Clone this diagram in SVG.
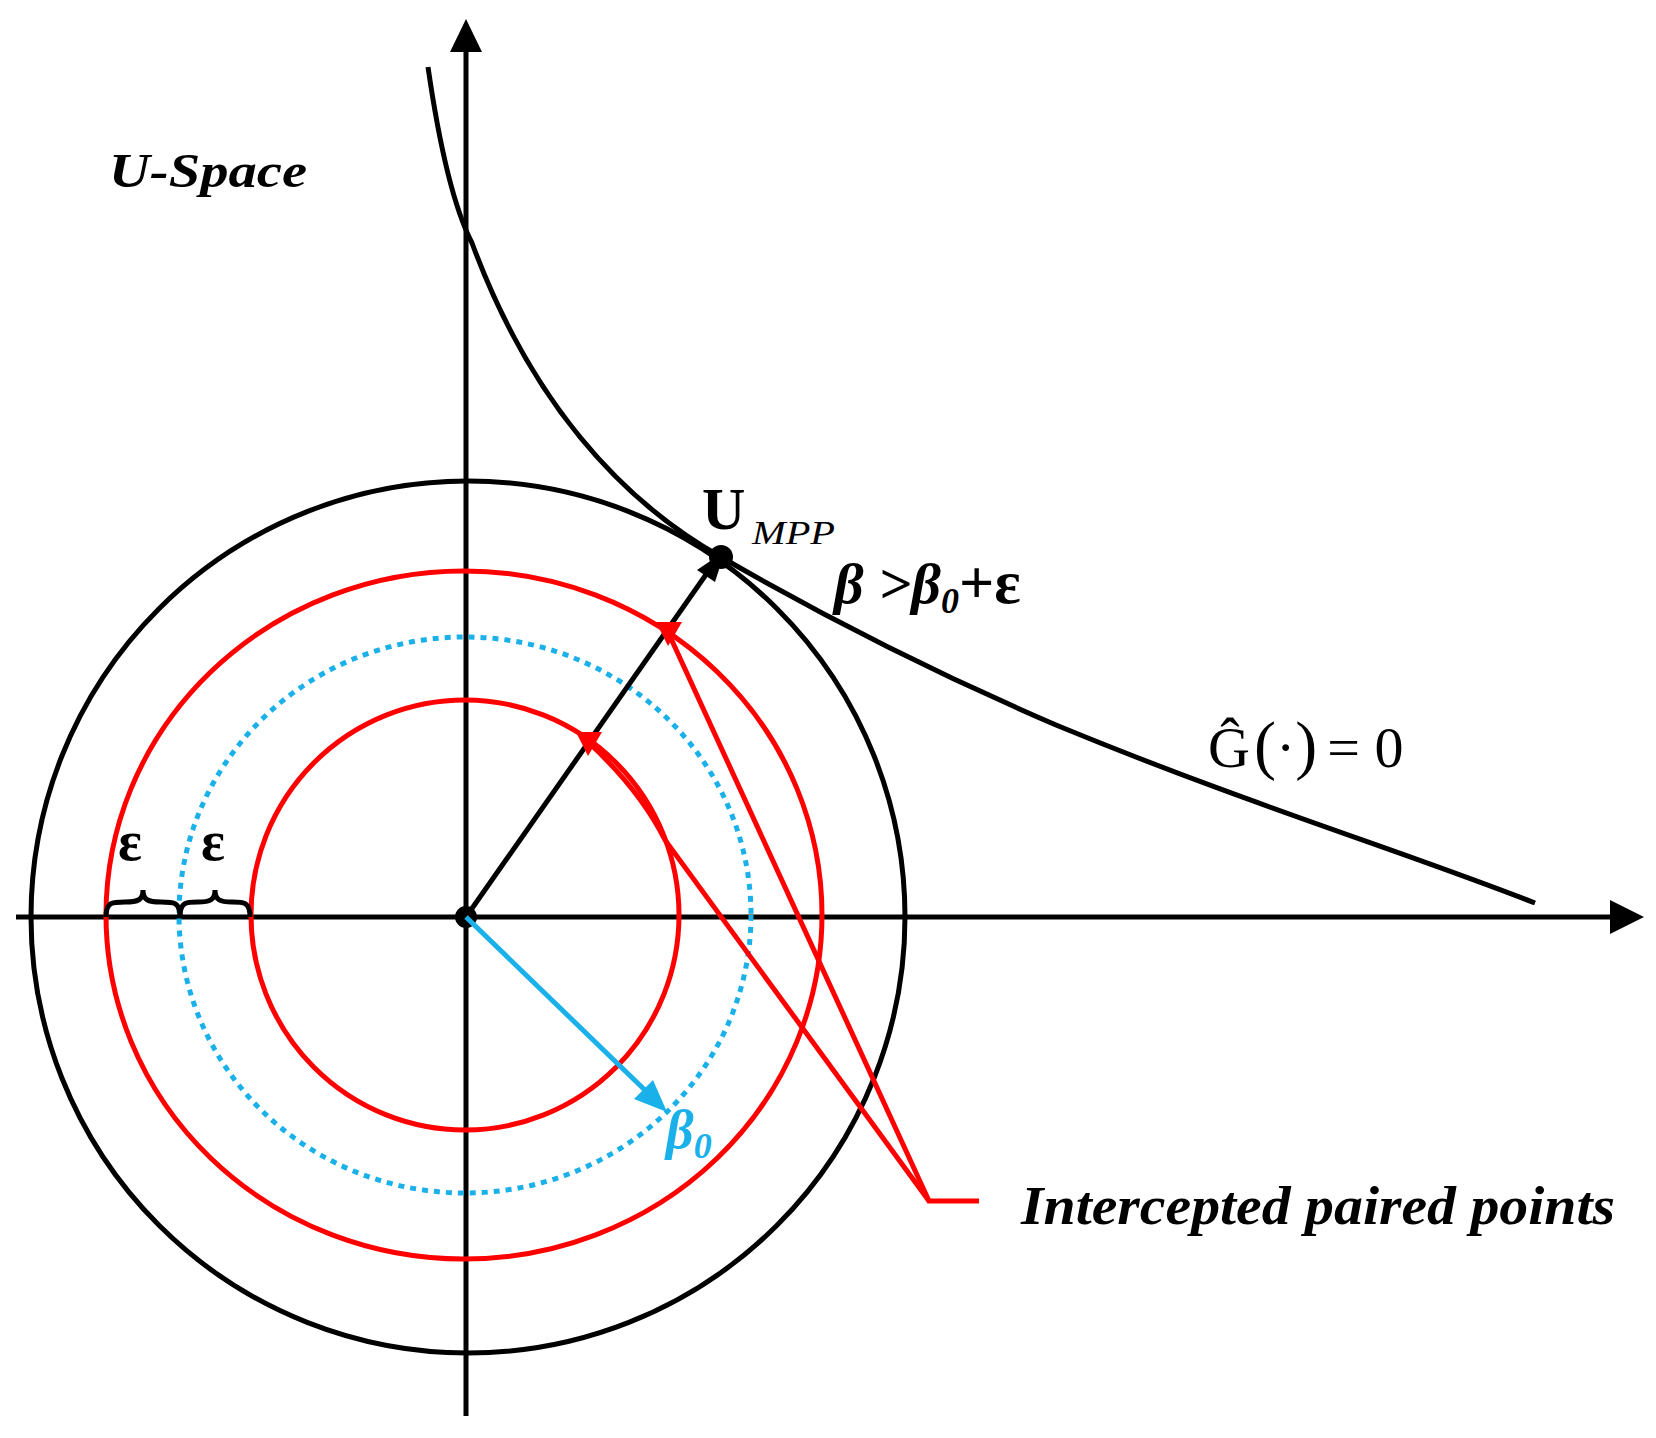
<svg xmlns="http://www.w3.org/2000/svg" width="1656" height="1438" viewBox="0 0 1656 1438">
<style>
.bk{fill:none;stroke:#000;stroke-width:5}
.rd{fill:none;stroke:#f00;stroke-width:5}
.t{font-family:"Liberation Serif","Times New Roman",serif}
</style>
<rect width="1656" height="1438" fill="#fff"/>
<g id="axes">
<line class="bk" x1="466" y1="1416" x2="466" y2="50"/>
<path d="M466,19 L450,52 L482,52 Z" fill="#000"/>
<line class="bk" x1="16" y1="917" x2="1612" y2="917"/>
<path d="M1644,917 L1610,900 L1610,934 Z" fill="#000"/>
</g>
<g id="circles">
<ellipse class="bk" cx="468" cy="917" rx="437" ry="436"/>
<ellipse class="rd" cx="464" cy="915" rx="358" ry="344"/>
<ellipse cx="465" cy="915" rx="286" ry="278" fill="none" stroke="#1ab0ea" stroke-width="5" stroke-dasharray="6,6"/>
<ellipse class="rd" cx="465" cy="915" rx="214" ry="215"/>
</g>
<g id="curve">
<path class="bk" d="M428,67 C440,150 455,210 472,243 C530,400 620,500 721,557 C830,620 940,675 1056,725 C1250,805 1400,850 1535,903"/>
</g>
<g id="connectors">
<line x1="466" y1="917" x2="712" y2="566" stroke="#000" stroke-width="5"/>
<path d="M725,551 L697,570 L715,582 Z" fill="#000"/>
<circle cx="721" cy="557" r="12" fill="#000"/>
<circle cx="466" cy="917" r="11" fill="#000"/>
<line x1="466" y1="917" x2="650" y2="1095" stroke="#1ab0ea" stroke-width="5"/>
<path d="M667,1112 L634,1099 L653,1080 Z" fill="#1ab0ea"/>
<polyline class="rd" points="668,632 929,1201 979,1201"/>
<path class="rd" d="M588,742 Q640,790 665,840 L929,1201"/>
<path d="M656,622 L682,622 L668,646 Z" fill="#f00"/>
<path d="M576,732 L602,732 L588,756 Z" fill="#f00"/>
<path class="bk" d="M106,917 C106,902 112,902 125,902 C138,902 143,900 143,890 C143,900 148,902 161,902 C174,902 180,902 180,917" stroke-width="4"/>
<path class="bk" d="M180,917 C180,902 186,902 198,902 C210,902 215,900 215,890 C215,900 220,902 232,902 C244,902 250,902 250,917" stroke-width="4"/>
</g>
<g id="labels">
<text class="t" x="109" y="187" font-size="48" font-style="italic" font-weight="bold" textLength="198" lengthAdjust="spacingAndGlyphs">U-Space</text>
<text class="t" x="702" y="529" font-size="60" font-weight="bold">U</text>
<text class="t" x="752" y="544" font-size="34" font-style="italic" textLength="83" lengthAdjust="spacingAndGlyphs">MPP</text>
<text class="t" x="834" y="603" font-size="58" font-style="italic" font-weight="bold">β &gt;β<tspan font-size="36" dy="10">0</tspan><tspan dy="-10" font-style="normal" font-size="62">+ε</tspan></text>
<text class="t" x="1208" y="767" font-size="58">Ĝ<tspan font-size="66" dx="4">(</tspan>·<tspan font-size="66">)</tspan><tspan dx="10">= 0</tspan></text>
<text class="t" x="118" y="860" font-size="56" font-weight="bold">ε</text>
<text class="t" x="201" y="860" font-size="56" font-weight="bold">ε</text>
<text class="t" x="666" y="1148" font-size="54" font-style="italic" font-weight="bold" fill="#1ab0ea">β<tspan font-size="36" dy="10">0</tspan></text>
<text class="t" x="1021" y="1224" font-size="54" font-style="italic" font-weight="bold" textLength="594" lengthAdjust="spacingAndGlyphs">Intercepted paired points</text>
</g>
</svg>
